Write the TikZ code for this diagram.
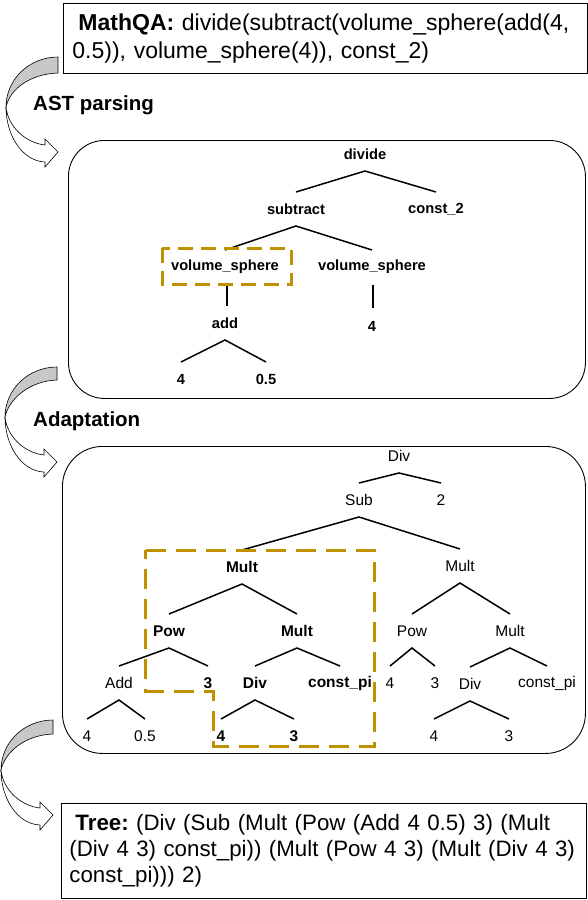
\documentclass[tikz,border=0pt]{standalone}
\usepackage{fontspec}
\setmainfont{Liberation Sans}
\usetikzlibrary{calc}
\definecolor{gold}{RGB}{191,144,0}
\definecolor{agray}{RGB}{200,200,200}
\newcommand\treefork[3]{\draw[edge] ($(#2)+(0,-17)$) -- ($(#1)+(0,17)$) -- ($(#3)+(0,-17)$);}
\newcommand\curvedarrow[3]{%
\begin{scope}[shift={(#1,#2)}]
\filldraw[fill=agray, draw=black, line width=0.6pt] (0,0) .. controls (-28.7,0) and (-52,22.4) .. (-52,50) .. controls (-48,32) and (-28,#3+1) .. (0,#3) -- cycle;
\filldraw[fill=white, draw=black, line width=0.6pt] (-52,50) .. controls (-52,78) and (-36,104) .. (-13,105) -- (-13,110) -- (0,95) -- (-13,82) -- (-13,88) .. controls (-32,86) and (-50,70) .. (-52,50) -- cycle;
\end{scope}}
\begin{document}
\frenchspacing
\begin{tikzpicture}[x=1pt,y=-1pt,
  box/.style={draw, line width=0.9pt, inner ysep=0pt, anchor=north west, align=left},
  roundbox/.style={draw, line width=0.9pt, rounded corners=36pt, inner sep=0pt, anchor=north west},
  astlab/.style={font=\fontsize{14.7}{17}\selectfont\bfseries, inner sep=1pt},
  adlab/.style={font=\fontsize{15.5}{18}\selectfont, inner sep=1pt},
  adbold/.style={font=\fontsize{15.5}{18}\selectfont\bfseries, inner sep=1pt},
  edge/.style={line width=1.5pt},
  heading/.style={font=\fontsize{20.5}{24}\selectfont\bfseries, anchor=west, inner sep=0pt},
  golddash/.style={draw=gold, line width=3pt, dash pattern=on 15pt off 8pt},
  goldlong/.style={draw=gold, line width=3pt, dash pattern=on 20pt off 10pt},
]
\useasboundingbox (0,0) rectangle (588,900);

% curved block arrows
\curvedarrow{58}{57}{16}
\curvedarrow{57}{367}{13}
\curvedarrow{53}{720}{14}

% top box
\node[box, inner xsep=9pt, minimum width=524pt, minimum height=70pt, text width=506pt,
      font=\fontsize{23}{27.5}\selectfont] (mathqa) at (63,3)
  {\hspace*{6pt}\textbf{MathQA:} divide(subtract(volume\_sphere(add(4,\\0.5)), volume\_sphere(4)), const\_2)};

% headings
\node[heading] (astp) at (33,105) {AST parsing};
\node[heading] (adapt) at (33,421) {Adaptation};

% AST box
\node[roundbox, minimum width=517pt, minimum height=258pt] (astbox) at (68,140) {};
\node[astlab] (divide) at (365,154) {divide};
\node[astlab] (subtract) at (296,209) {subtract};
\node[astlab] (const2) at (436,209) {const\_2};
\node[astlab] (vsA) at (225,267) {volume\_sphere};
\node[astlab] (vsB) at (372,267) {volume\_sphere};
\node[astlab] (add) at (225,323) {add};
\node[astlab] (four) at (372,326) {4};
\node[astlab] (fourA) at (181,379) {4};
\node[astlab] (half) at (266,379) {0.5};
\treefork{divide}{subtract}{const2}
\treefork{subtract}{vsA}{vsB}
\draw[edge] ($(vsA)+(2,18)$) -- ($(add)+(2,-17)$);
\draw[edge] ($(vsB)+(1,18)$) -- ($(four)+(1,-18)$);
\treefork{add}{fourA}{half}
\draw[golddash] (162,248) rectangle (291,284);

% Adaptation box
\node[roundbox, rounded corners=40pt, minimum width=523pt, minimum height=307pt] (adbox) at (62,446) {};
\node[adlab] (Div) at (399,456) {Div};
\node[adlab] (Sub) at (359,500) {Sub};
\node[adlab] (two) at (441,500) {2};
\node[adbold] (MultA) at (242,567) {Mult};
\node[adlab] (MultB) at (460,566) {Mult};
\node[adbold] (PowA) at (169,631) {Pow};
\node[adbold] (MultC) at (297,631) {Mult};
\node[adlab] (PowB) at (412,631) {Pow};
\node[adlab] (MultD) at (510,631) {Mult};
\node[adlab] (AddA) at (119,683) {Add};
\node[adbold] (threeA) at (208,683) {3};
\node[adbold] (DivA) at (255,683) {Div};
\node[adbold] (cpiA) at (340,683) {const\_pi};
\node[adlab] (fourB) at (390,683) {4};
\node[adlab] (threeB) at (435,683) {3};
\node[adlab] (DivB) at (470,684) {Div};
\node[adlab] (cpiB) at (547,683) {const\_pi};
\node[adlab] (fourC) at (87,736) {4};
\node[adlab] (halfB) at (145,736) {0.5};
\node[adbold] (fourD) at (221,736) {4};
\node[adbold] (threeC) at (294,736) {3};
\node[adlab] (fourE) at (434,736) {4};
\node[adlab] (threeD) at (509,736) {3};
\treefork{Div}{Sub}{two}
\treefork{Sub}{MultA}{MultB}
\treefork{MultA}{PowA}{MultC}
\treefork{MultB}{PowB}{MultD}
\treefork{PowA}{AddA}{threeA}
\treefork{MultC}{DivA}{cpiA}
\treefork{PowB}{fourB}{threeB}
\treefork{MultD}{DivB}{cpiB}
\treefork{AddA}{fourC}{halfB}
\treefork{DivA}{fourD}{threeC}
\treefork{DivB}{fourE}{threeD}
\draw[goldlong] (145.5,550) -- (374,550) -- (374,746) -- (213.5,746) -- (213.5,691) -- (145.5,691) -- cycle;

% bottom box
\node[box, inner xsep=8pt, minimum width=525pt, minimum height=95pt, text width=509pt,
      font=\fontsize{22.3}{26}\selectfont] (tree) at (61,803)
  {\hspace*{6pt}\textbf{Tree:} (Div (Sub (Mult (Pow (Add 4 0.5) 3) (Mult\\(Div 4 3) const\_pi)) (Mult (Pow 4 3) (Mult (Div 4 3)\\const\_pi))) 2)};
\end{tikzpicture}
\end{document}
